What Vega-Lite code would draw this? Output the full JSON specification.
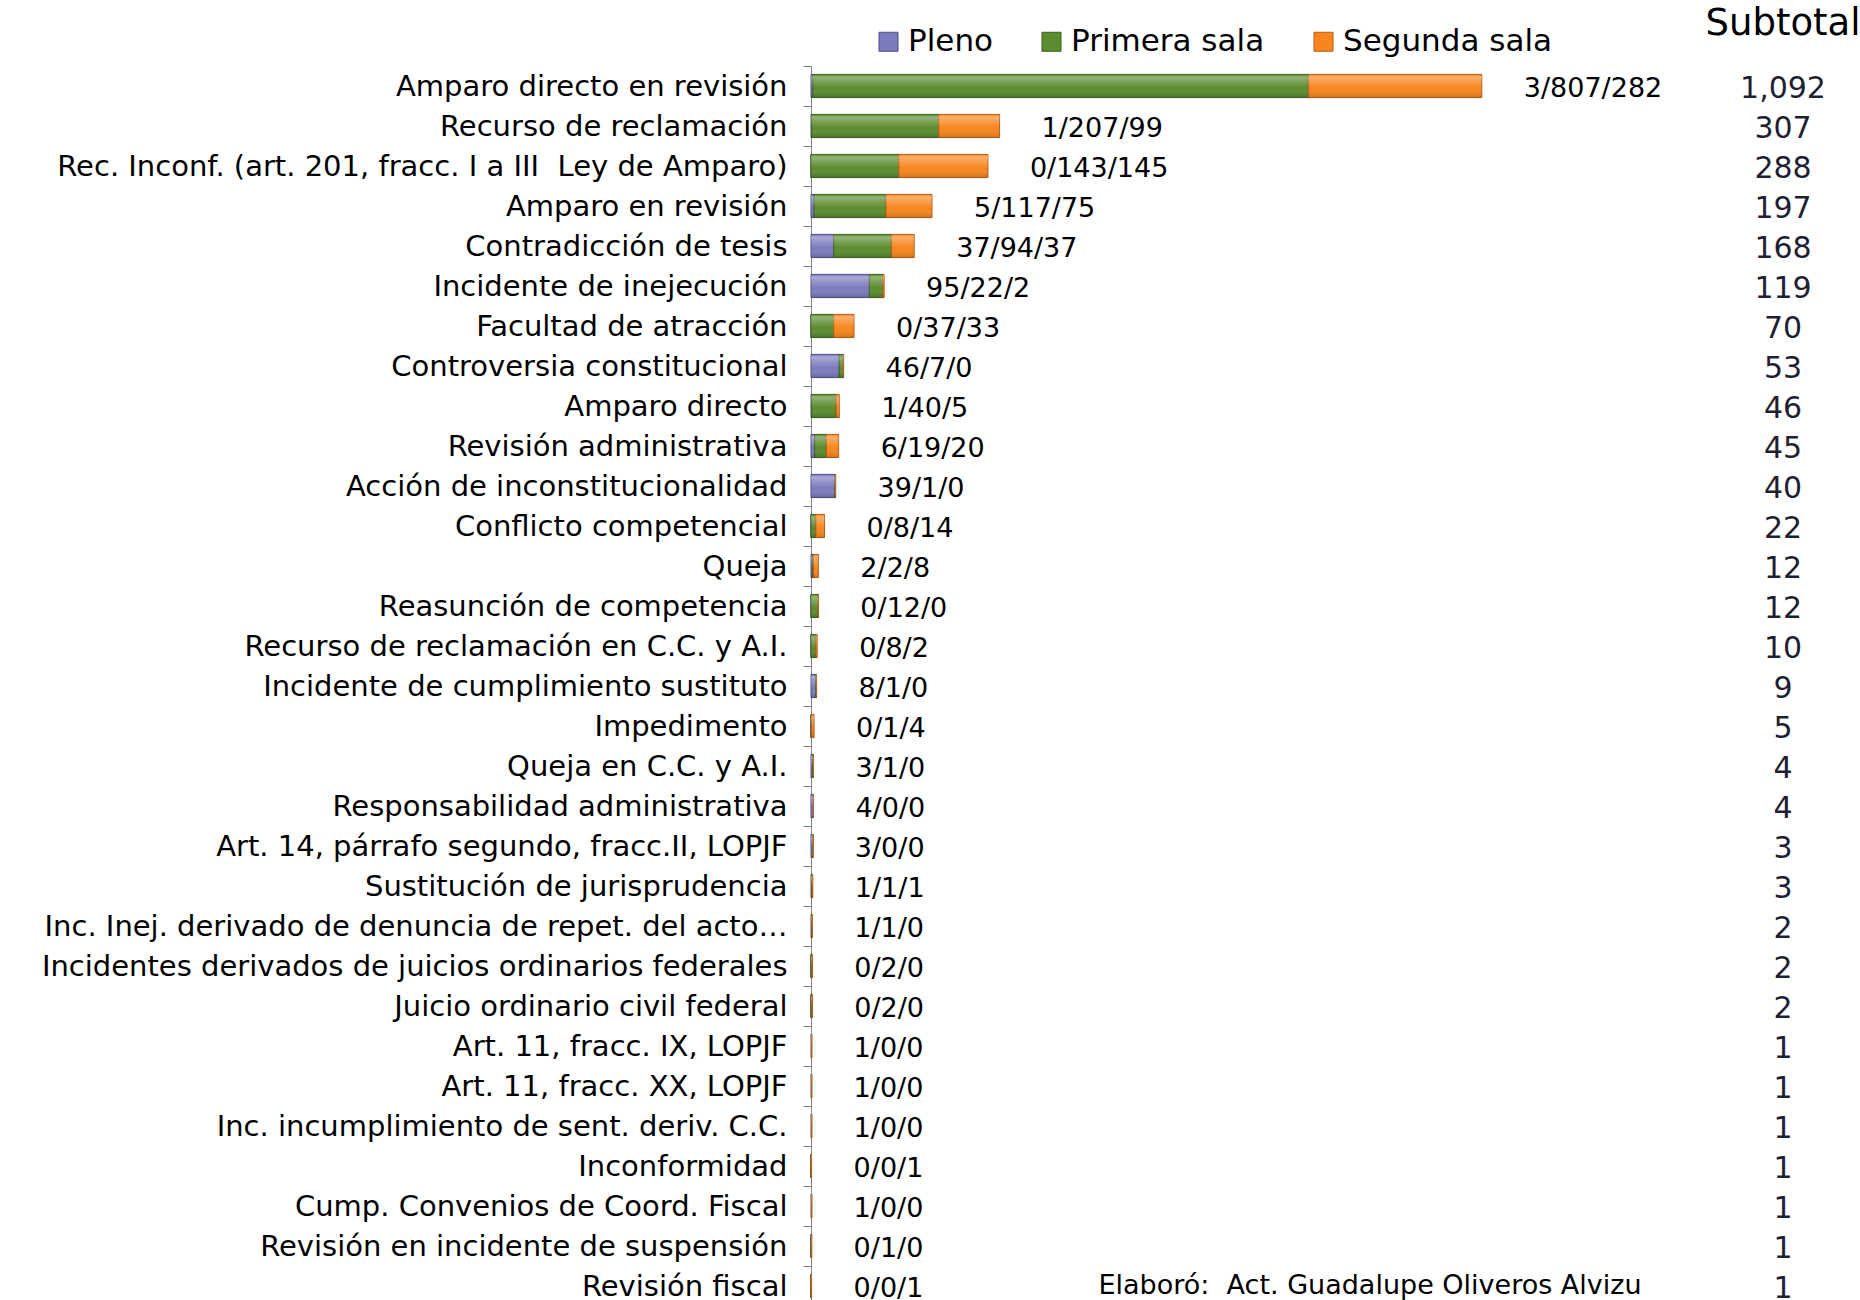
{
  "$schema": "https://vega.github.io/schema/vega-lite/v6.json",
  "background": "white",
  "padding": {"left": 41, "top": 5, "right": 0, "bottom": 0},
  "config": {"view": {"stroke": null}, "font": "DejaVu Sans"},
  "datasets": {
    "rows": [
      {"Tipo": "Amparo directo en revisión", "Pleno": 3, "Primera sala": 807, "Segunda sala": 282, "Subtotal": 1092, "Etiqueta": "3/807/282"},
      {"Tipo": "Recurso de reclamación", "Pleno": 1, "Primera sala": 207, "Segunda sala": 99, "Subtotal": 307, "Etiqueta": "1/207/99"},
      {"Tipo": "Rec. Inconf. (art. 201, fracc. I a III\u00a0 Ley de Amparo)", "Pleno": 0, "Primera sala": 143, "Segunda sala": 145, "Subtotal": 288, "Etiqueta": "0/143/145"},
      {"Tipo": "Amparo en revisión", "Pleno": 5, "Primera sala": 117, "Segunda sala": 75, "Subtotal": 197, "Etiqueta": "5/117/75"},
      {"Tipo": "Contradicción de tesis", "Pleno": 37, "Primera sala": 94, "Segunda sala": 37, "Subtotal": 168, "Etiqueta": "37/94/37"},
      {"Tipo": "Incidente de inejecución", "Pleno": 95, "Primera sala": 22, "Segunda sala": 2, "Subtotal": 119, "Etiqueta": "95/22/2"},
      {"Tipo": "Facultad de atracción", "Pleno": 0, "Primera sala": 37, "Segunda sala": 33, "Subtotal": 70, "Etiqueta": "0/37/33"},
      {"Tipo": "Controversia constitucional\u00a0", "Pleno": 46, "Primera sala": 7, "Segunda sala": 0, "Subtotal": 53, "Etiqueta": "46/7/0"},
      {"Tipo": "Amparo directo", "Pleno": 1, "Primera sala": 40, "Segunda sala": 5, "Subtotal": 46, "Etiqueta": "1/40/5"},
      {"Tipo": "Revisión administrativa", "Pleno": 6, "Primera sala": 19, "Segunda sala": 20, "Subtotal": 45, "Etiqueta": "6/19/20"},
      {"Tipo": "Acción de inconstitucionalidad", "Pleno": 39, "Primera sala": 1, "Segunda sala": 0, "Subtotal": 40, "Etiqueta": "39/1/0"},
      {"Tipo": "Conflicto competencial", "Pleno": 0, "Primera sala": 8, "Segunda sala": 14, "Subtotal": 22, "Etiqueta": "0/8/14"},
      {"Tipo": "Queja", "Pleno": 2, "Primera sala": 2, "Segunda sala": 8, "Subtotal": 12, "Etiqueta": "2/2/8"},
      {"Tipo": "Reasunción de competencia", "Pleno": 0, "Primera sala": 12, "Segunda sala": 0, "Subtotal": 12, "Etiqueta": "0/12/0"},
      {"Tipo": "Recurso de reclamación en C.C. y A.I.", "Pleno": 0, "Primera sala": 8, "Segunda sala": 2, "Subtotal": 10, "Etiqueta": "0/8/2"},
      {"Tipo": "Incidente de cumplimiento sustituto", "Pleno": 8, "Primera sala": 1, "Segunda sala": 0, "Subtotal": 9, "Etiqueta": "8/1/0"},
      {"Tipo": "Impedimento", "Pleno": 0, "Primera sala": 1, "Segunda sala": 4, "Subtotal": 5, "Etiqueta": "0/1/4"},
      {"Tipo": "Queja en C.C. y A.I.", "Pleno": 3, "Primera sala": 1, "Segunda sala": 0, "Subtotal": 4, "Etiqueta": "3/1/0"},
      {"Tipo": "Responsabilidad administrativa", "Pleno": 4, "Primera sala": 0, "Segunda sala": 0, "Subtotal": 4, "Etiqueta": "4/0/0"},
      {"Tipo": "Art. 14, párrafo segundo, fracc.II, LOPJF", "Pleno": 3, "Primera sala": 0, "Segunda sala": 0, "Subtotal": 3, "Etiqueta": "3/0/0"},
      {"Tipo": "Sustitución de jurisprudencia", "Pleno": 1, "Primera sala": 1, "Segunda sala": 1, "Subtotal": 3, "Etiqueta": "1/1/1"},
      {"Tipo": "Inc. Inej. derivado de denuncia de repet. del acto…", "Pleno": 1, "Primera sala": 1, "Segunda sala": 0, "Subtotal": 2, "Etiqueta": "1/1/0"},
      {"Tipo": "Incidentes derivados de juicios ordinarios federales", "Pleno": 0, "Primera sala": 2, "Segunda sala": 0, "Subtotal": 2, "Etiqueta": "0/2/0"},
      {"Tipo": "Juicio ordinario civil federal", "Pleno": 0, "Primera sala": 2, "Segunda sala": 0, "Subtotal": 2, "Etiqueta": "0/2/0"},
      {"Tipo": "Art. 11, fracc. IX, LOPJF", "Pleno": 1, "Primera sala": 0, "Segunda sala": 0, "Subtotal": 1, "Etiqueta": "1/0/0"},
      {"Tipo": "Art. 11, fracc. XX, LOPJF", "Pleno": 1, "Primera sala": 0, "Segunda sala": 0, "Subtotal": 1, "Etiqueta": "1/0/0"},
      {"Tipo": "Inc. incumplimiento de sent. deriv. C.C.", "Pleno": 1, "Primera sala": 0, "Segunda sala": 0, "Subtotal": 1, "Etiqueta": "1/0/0"},
      {"Tipo": "Inconformidad", "Pleno": 0, "Primera sala": 0, "Segunda sala": 1, "Subtotal": 1, "Etiqueta": "0/0/1"},
      {"Tipo": "Cump. Convenios de Coord. Fiscal", "Pleno": 1, "Primera sala": 0, "Segunda sala": 0, "Subtotal": 1, "Etiqueta": "1/0/0"},
      {"Tipo": "Revisión en incidente de suspensión", "Pleno": 0, "Primera sala": 1, "Segunda sala": 0, "Subtotal": 1, "Etiqueta": "0/1/0"},
      {"Tipo": "Revisión fiscal", "Pleno": 0, "Primera sala": 0, "Segunda sala": 1, "Subtotal": 1, "Etiqueta": "0/0/1"}
    ]
  },
  "spacing": 34,
  "hconcat": [
    {
      "width": 860,
      "height": 1240,
      "layer": [
        {
          "data": {"name": "rows"},
          "transform": [{"fold": ["Pleno", "Primera sala", "Segunda sala"], "as": ["Sala", "Asuntos"]}],
          "mark": {"type": "bar", "height": {"band": 0.58}, "strokeWidth": 1},
          "encoding": {
            "y": {
              "field": "Tipo", "type": "nominal", "sort": null,
              "scale": {"paddingInner": 0, "paddingOuter": 0},
              "axis": {"title": null, "labelFontSize": 29, "labelColor": "#000000", "labelLimit": 0, "tickSize": 8, "tickColor": "#808080", "domainColor": "#808080", "labelPadding": 16, "tickBand": "extent"}
            },
            "x": {"field": "Asuntos", "type": "quantitative", "stack": "zero", "scale": {"domain": [0, 1400]}, "axis": null},
            "color": {
              "field": "Sala", "type": "nominal",
              "scale": {"domain": ["Pleno", "Primera sala", "Segunda sala"], "range": ["#7b7bbd", "#5b8c2e", "#f7861f"]},
              "legend": {"title": null, "orient": "none", "direction": "horizontal", "legendX": 62, "legendY": -40, "labelFontSize": 31, "labelLimit": 0, "labelColor": "#000000", "symbolType": "square", "symbolSize": 361, "symbolStrokeWidth": 1, "symbolStrokeColor": "#555555", "columnPadding": 43, "labelOffset": 4}
            },
            "stroke": {
              "field": "Sala", "type": "nominal",
              "scale": {"domain": ["Pleno", "Primera sala", "Segunda sala"], "range": ["#4d4d80", "#3b5e1c", "#b85c10"]},
              "legend": null
            }
          }
        },
        {
          "data": {"name": "rows"},
          "mark": {
            "type": "bar", "height": {"band": 0.58}, "strokeWidth": 0,
            "fill": {"gradient": "linear", "x1": 0, "y1": 0, "x2": 0, "y2": 1, "stops": [
              {"offset": 0, "color": "rgba(255,255,255,0)"},
              {"offset": 0.12, "color": "rgba(255,255,255,0.35)"},
              {"offset": 0.4, "color": "rgba(255,255,255,0.12)"},
              {"offset": 0.6, "color": "rgba(255,255,255,0)"},
              {"offset": 1, "color": "rgba(0,0,0,0.18)"}
            ]}
          },
          "encoding": {
            "y": {"field": "Tipo", "type": "nominal", "sort": null},
            "x": {"field": "Subtotal", "type": "quantitative"}
          }
        },
        {
          "data": {"name": "rows"},
          "mark": {"type": "text", "align": "left", "dx": 42, "dy": 3, "fontSize": 27, "color": "#000000"},
          "encoding": {
            "y": {"field": "Tipo", "type": "nominal", "sort": null},
            "x": {"field": "Subtotal", "type": "quantitative"},
            "text": {"field": "Etiqueta"}
          }
        },
        {
          "data": {"values": [{"nota": "Elaboró:\u00a0 Act. Guadalupe Oliveros Alvizu"}]},
          "mark": {"type": "text", "align": "left", "fontSize": 27, "color": "#000000"},
          "encoding": {
            "y": {"datum": "Revisión fiscal", "type": "nominal"},
            "x": {"datum": 468, "type": "quantitative"},
            "text": {"field": "nota"}
          }
        }
      ]
    },
    {
      "width": 140,
      "height": 1240,
      "data": {"name": "rows"},
      "title": {"text": "Subtotal", "fontSize": 37, "fontWeight": "normal", "anchor": "middle", "baseline": "alphabetic", "offset": -6, "color": "#000000"},
      "mark": {"type": "text", "fontSize": 30, "color": "#1f1f33", "dy": 3},
      "encoding": {
        "y": {"field": "Tipo", "type": "nominal", "sort": null, "axis": null, "scale": {"paddingInner": 0, "paddingOuter": 0}},
        "text": {"field": "Subtotal", "type": "quantitative", "format": ","}
      }
    }
  ]
}
